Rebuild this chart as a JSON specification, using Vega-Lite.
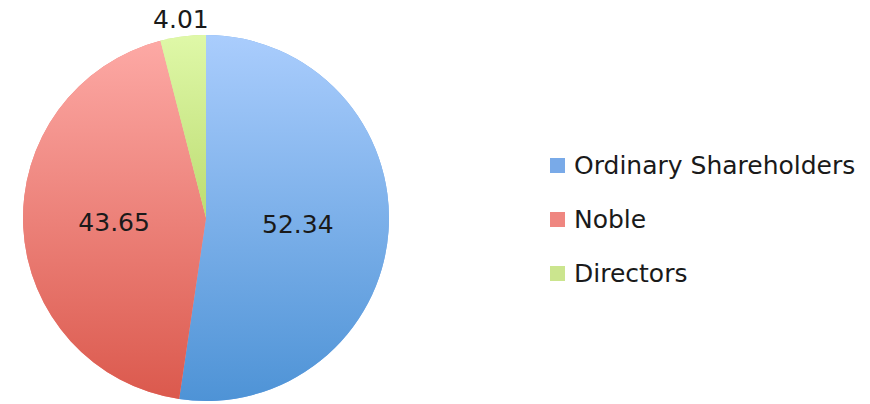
{
  "$schema": "https://vega.github.io/schema/vega-lite/v6.json",
  "autosize": {"type": "none"},
  "width": 366,
  "height": 366,
  "padding": {"left": 23, "top": 35, "right": 481, "bottom": 3},
  "background": "white",
  "config": {"view": {"stroke": null}, "font": "DejaVu Sans"},
  "data": {"values": [
    {"category": "Ordinary Shareholders", "value": 52.34},
    {"category": "Noble", "value": 43.65},
    {"category": "Directors", "value": 4.01}
  ]},
  "encoding": {
    "theta": {"field": "value", "type": "quantitative", "stack": true, "scale": {"domain": [0, 100]}},
    "order": {"field": "value", "type": "quantitative", "sort": "descending"}
  },
  "layer": [
    {
      "mark": {"type": "arc"},
      "encoding": {
        "color": {
          "field": "category", "type": "nominal",
          "scale": {"domain": ["Ordinary Shareholders", "Noble", "Directors"], "range": ["#79aae8", "#ef8680", "#cbe58e"]},
          "legend": {
            "title": null, "orient": "none", "legendX": 522, "legendY": 118,
            "symbolType": "square", "symbolSize": 225, "symbolStrokeWidth": 0,
            "labelFontSize": 25, "labelColor": "#1a1a1a", "labelFont": "DejaVu Sans",
            "labelOffset": 4, "rowPadding": 28, "padding": 0, "labelLimit": 400
          }
        }
      }
    },
    {
      "mark": {"type": "arc", "stroke": null},
      "encoding": {
        "fill": {
          "condition": [
            {"test": "datum.category === 'Ordinary Shareholders'", "value": {"gradient": "linear", "x1": 0, "y1": 0, "x2": 0, "y2": 1, "stops": [{"offset": 0, "color": "#aacdfd"}, {"offset": 1, "color": "#4e93d6"}]}},
            {"test": "datum.category === 'Noble'", "value": {"gradient": "linear", "x1": 0, "y1": 0, "x2": 0, "y2": 1, "stops": [{"offset": 0, "color": "#fda9a5"}, {"offset": 1, "color": "#db594d"}]}}
          ],
          "value": {"gradient": "linear", "x1": 0, "y1": 0, "x2": 0, "y2": 1, "stops": [{"offset": 0, "color": "#dff8a8"}, {"offset": 1, "color": "#bcdc72"}]}
        }
      }
    },
    {
      "mark": {"type": "text", "fontSize": 25, "color": "#1a1a1a", "baseline": "middle", "align": "center"},
      "encoding": {
        "text": {"field": "value", "type": "quantitative", "format": ".2f"},
        "radius": {"field": "value", "type": "quantitative", "scale": {"type": "linear", "zero": false, "clamp": true, "domain": [10, 20], "range": [200, 92]}}
      }
    }
  ]
}
